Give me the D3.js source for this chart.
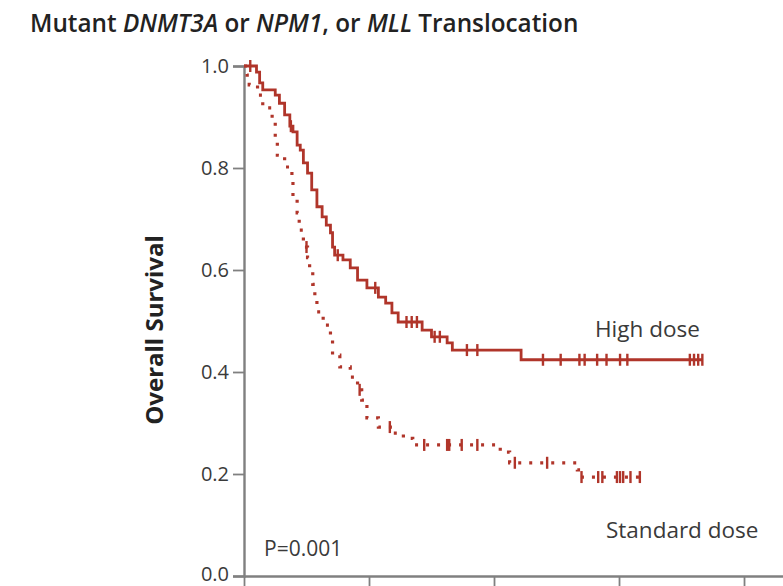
<!DOCTYPE html>
<html>
<head>
<meta charset="utf-8">
<script src="https://cdn.jsdelivr.net/npm/d3@7"></script>
<style>
  html, body { margin: 0; padding: 0; background: #fff; }
  svg { display: block; }
</style>
</head>
<body>
<svg id="chart" width="783" height="586"></svg>
<script>
// Kaplan-Meier overall survival, months since randomization.
// Step points: survival drops to the given value at the given time.
const highTimes = [0, 1.2, 1.5, 1.8, 3.0, 3.4, 3.9, 4.4, 4.7, 5.1, 5.4, 5.7, 6.1, 6.5, 7.0, 7.5, 7.9, 8.3, 8.5, 8.7,
  9.5, 10.2, 10.9, 11.8, 12.9, 13.6, 14.2, 14.8, 17.1, 18.0, 19.5, 20.0, 26.6];
const highSurv = [1.0, 0.988, 0.967, 0.953, 0.943, 0.927, 0.904, 0.882, 0.871, 0.845, 0.835, 0.81, 0.79, 0.757, 0.724, 0.704, 0.688, 0.673, 0.645, 0.629,
  0.62, 0.604, 0.58, 0.565, 0.547, 0.535, 0.516, 0.498, 0.482, 0.469, 0.457, 0.443, 0.424];
const highEnd = 44.0;
const highCensor = [0.6, 4.5, 9.0, 12.6, 15.6, 16.1, 16.6, 18.3, 18.8, 21.4, 22.4,
  28.7, 30.4, 32.2, 32.7, 33.9, 34.8, 36.1, 36.8, 42.8, 43.2, 43.6, 44.0];

const stdTimes = [0, 0.3, 0.5, 1.3, 1.8, 2.7, 3.0, 3.2, 3.9, 4.6, 4.7, 5.1, 5.3, 5.7, 6.1, 6.3, 6.6, 6.8, 7.0, 7.6, 8.3, 8.5, 9.2,
  10.2, 10.9, 11.3, 11.8, 12.9, 14.3, 15.3, 16.2, 24.6, 25.5, 32.0, 32.3];
const stdSurv = [1.0, 0.982, 0.963, 0.943, 0.918, 0.898, 0.861, 0.825, 0.802, 0.78, 0.743, 0.712, 0.678, 0.645, 0.624, 0.60, 0.572, 0.545, 0.518, 0.492, 0.467, 0.433, 0.41,
  0.39, 0.365, 0.345, 0.31, 0.292, 0.28, 0.27, 0.257, 0.243, 0.222, 0.208, 0.194];
const stdEnd = 38.5;
const stdCensor = [6.0, 11.1, 14.0, 17.3, 19.5, 19.7, 20.9, 22.4, 26.0, 29.1,
  32.4, 34.0, 34.4, 35.8, 36.1, 36.4, 37.1, 38.0];

const yTicks = [0, 0.2, 0.4, 0.6, 0.8, 1.0];
const xTicks = [0, 12, 24, 36, 48];

const titleParts = [
  { text: "Mutant ", italic: false },
  { text: "DNMT3A", italic: true },
  { text: " or ", italic: false },
  { text: "NPM1", italic: true },
  { text: ", or ", italic: false },
  { text: "MLL", italic: true },
  { text: " Translocation", italic: false }
];
const yLabel = "Overall Survival";
const seriesLabels = ["High dose", "Standard dose"];
const pLabel = "P=0.001";

const curveColor = "#b0352a";
const axisColor = "#808080";
const textColor = "#3a3a3a";
const font = "'Open Sans', 'Noto Sans', sans-serif";

const svg = d3.select("#chart");

const x = d3.scaleLinear().domain([0, 51.8]).range([244, 783.6]);
const y = d3.scaleLinear().domain([0, 1]).range([576, 66]);

// Title with italic gene names
const title = svg.append("text")
  .attr("x", 30).attr("y", 32)
  .attr("font-family", font)
  .attr("font-size", 24.3)
  .attr("font-weight", 600)
  .attr("fill", "#222");
title.selectAll("tspan").data(titleParts).join("tspan")
  .attr("font-style", d => d.italic ? "italic" : "normal")
  .text(d => d.text);

// Axes
const yAxis = d3.axisLeft(y).tickValues(yTicks).tickFormat(d3.format(".1f")).tickSize(11).tickPadding(4);
const gy = svg.append("g").attr("transform", "translate(244,0)").call(yAxis);
gy.select(".domain").attr("stroke", axisColor).attr("stroke-width", 2.4);
gy.selectAll(".tick line").attr("stroke", axisColor).attr("stroke-width", 1.8);
gy.selectAll(".tick text")
  .attr("font-family", font).attr("font-size", 20).attr("fill", textColor)
  .attr("dy", d => d === 0 ? "0.2em" : "0.32em");

const xAxis = d3.axisBottom(x).tickValues(xTicks).tickFormat("").tickSize(12).tickSizeOuter(0);
const gx = svg.append("g").attr("transform", "translate(0,576)").call(xAxis);
gx.select(".domain").attr("stroke", axisColor).attr("stroke-width", 2.4);
gx.selectAll(".tick line").attr("stroke", axisColor).attr("stroke-width", 1.8);

// Y-axis title
svg.append("text")
  .attr("transform", "translate(163,330) rotate(-90)")
  .attr("text-anchor", "middle")
  .attr("font-family", font).attr("font-size", 24).attr("font-weight", 700)
  .attr("fill", "#222")
  .text(yLabel);

// Survival curves
function kmPoints(times, surv, end) {
  const pts = times.map((t, i) => [t, surv[i]]);
  pts.push([end, surv[surv.length - 1]]);
  return pts;
}
function survAt(times, surv, t) {
  let s = surv[0];
  for (let i = 0; i < times.length; i++) if (times[i] <= t) s = surv[i];
  return s;
}
const line = d3.line().x(d => x(d[0])).y(d => y(d[1])).curve(d3.curveStepAfter);

svg.append("path")
  .datum(kmPoints(stdTimes, stdSurv, stdEnd))
  .attr("d", line)
  .attr("fill", "none").attr("stroke", curveColor)
  .attr("stroke-width", 3.2).attr("stroke-dasharray", "3,8");

svg.append("path")
  .datum(kmPoints(highTimes, highSurv, highEnd))
  .attr("d", line)
  .attr("fill", "none").attr("stroke", curveColor)
  .attr("stroke-width", 2.8).attr("stroke-linejoin", "miter");

// Censoring marks
function censorMarks(data, times, surv) {
  svg.append("g").selectAll("line").data(data).join("line")
    .attr("x1", d => x(d)).attr("x2", d => x(d))
    .attr("y1", d => y(survAt(times, surv, d)) - 6)
    .attr("y2", d => y(survAt(times, surv, d)) + 6)
    .attr("stroke", curveColor).attr("stroke-width", 2.4);
}
censorMarks(highCensor, highTimes, highSurv);
censorMarks(stdCensor, stdTimes, stdSurv);

// Curve labels and P value
svg.append("text")
  .attr("x", 595).attr("y", 337)
  .attr("font-family", font).attr("font-size", 22.5).attr("fill", textColor)
  .text(seriesLabels[0]);
svg.append("text")
  .attr("x", 606).attr("y", 538)
  .attr("font-family", font).attr("font-size", 22.5).attr("fill", textColor)
  .text(seriesLabels[1]);
svg.append("text")
  .attr("x", 264).attr("y", 556)
  .attr("font-family", font).attr("font-size", 21).attr("fill", textColor)
  .text(pLabel);
</script>
</body>
</html>
